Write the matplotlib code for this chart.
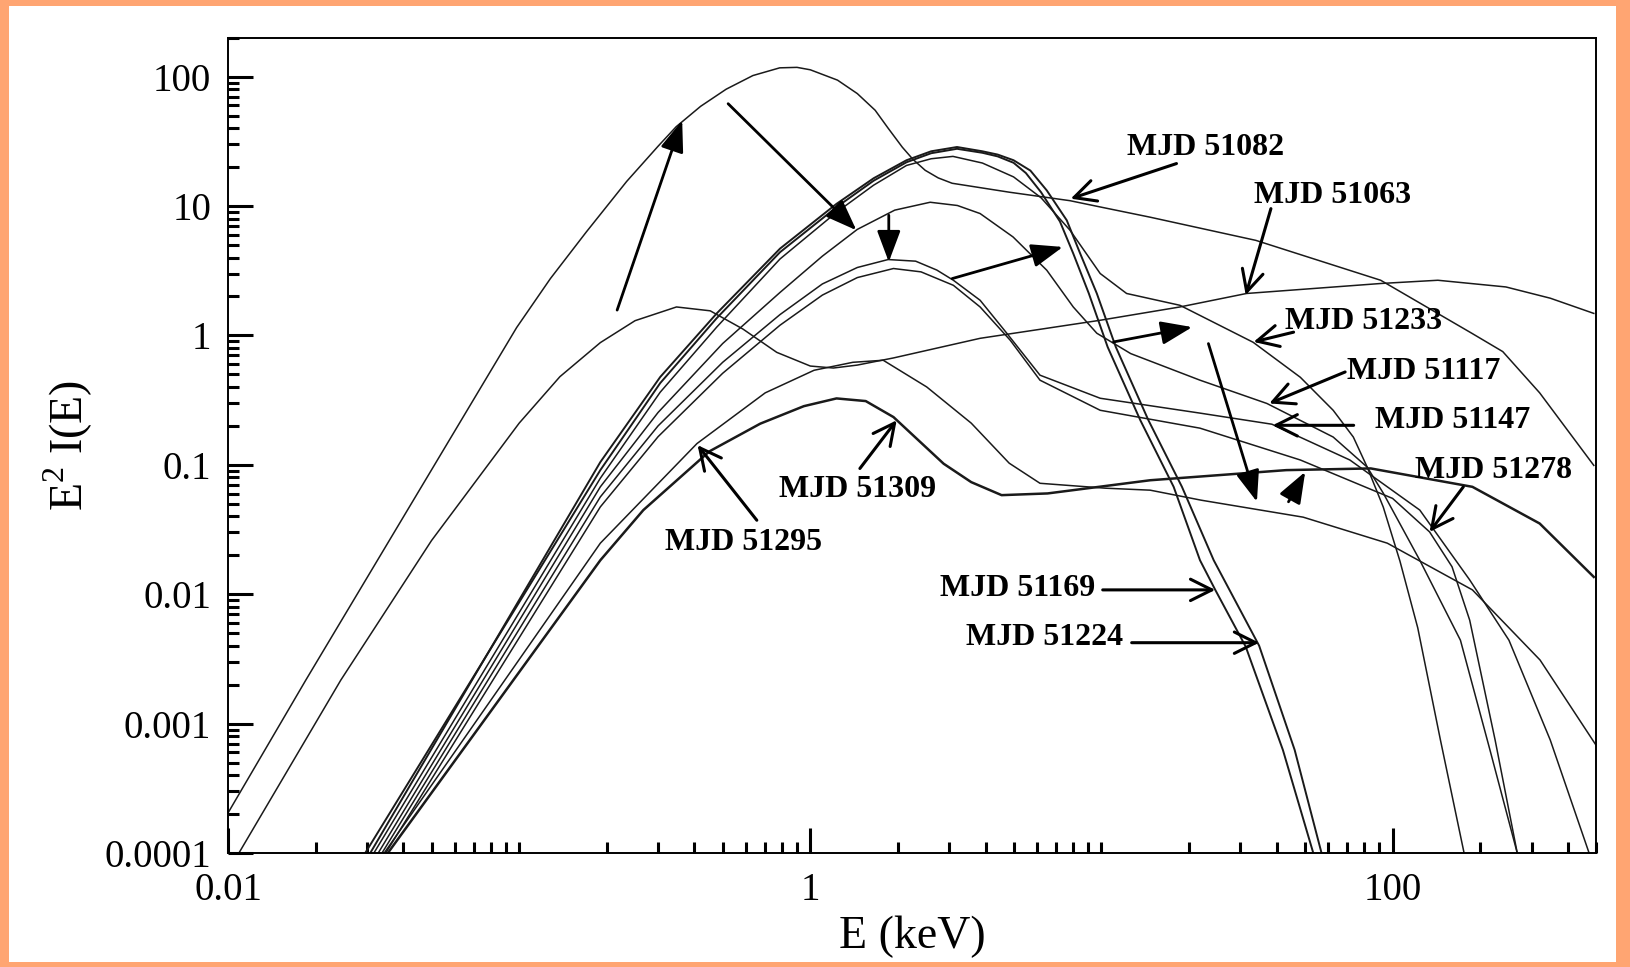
import matplotlib
matplotlib.use("Agg")
import matplotlib.pyplot as plt
from matplotlib.patches import Rectangle
from matplotlib.ticker import FixedLocator, FixedFormatter, NullFormatter

plt.rcParams['font.family'] = ['Liberation Serif', 'DejaVu Serif']
plt.rcParams['mathtext.fontset'] = 'custom'
plt.rcParams['mathtext.rm'] = 'Liberation Serif'

# model spectra, E (keV) vs E^2 I(E)
E_51082 = [0.01, 0.0185, 0.098, 0.128, 0.17, 0.234, 0.30, 0.346, 0.42, 0.514, 0.635, 0.785, 0.9, 1.0,
           1.24, 1.45, 1.67, 1.85, 2.07, 2.25, 2.48, 2.75, 3.07, 4.82, 7.8, 9.9, 14.7, 33.9, 91, 187,
           239, 320, 491]
F_51082 = [2.04e-4, 2.17e-3, 1.15, 2.75, 6.3, 15.5, 29, 41, 59, 80, 102, 117, 118, 113,
           94, 74, 55, 40, 28.5, 23, 18.9, 16.5, 15.0, 12.8, 11.0, 9.84, 8.2, 5.43, 2.67, 1.04,
           0.75, 0.36, 0.099]

E_51063 = [0.0109, 0.0244, 0.05, 0.1, 0.138, 0.19, 0.25, 0.347, 0.453, 0.587, 0.767, 1.0, 1.2, 1.45,
           1.93, 3.83, 9.9, 18.6, 31.5, 91, 143, 245, 348, 491]
F_51063 = [1e-4, 2.17e-3, 0.026, 0.21, 0.48, 0.88, 1.3, 1.66, 1.55, 1.12, 0.74, 0.58, 0.56, 0.59,
           0.67, 0.95, 1.31, 1.66, 2.11, 2.52, 2.67, 2.37, 1.94, 1.48]

E_51224 = [0.0308, 0.190, 0.305, 0.477, 0.787, 1.23, 1.65, 2.14, 2.6, 3.19, 3.9, 4.4, 4.99, 5.7, 6.49,
           7.60, 8.45, 9.64, 11.2, 14.5, 18.9, 24.3, 34.8, 46.1, 57.0]
F_51224 = [1e-4, 0.105, 0.477, 1.48, 4.69, 10.4, 16.4, 22.6, 26.5, 28.6, 26.5, 25, 22.6, 18.8, 13.2,
           7.76, 4.30, 2.11, 0.815, 0.221, 0.0676, 0.0183, 4.0e-3, 6.25e-4, 1e-4]

E_51169 = [0.0296, 0.190, 0.305, 0.477, 0.787, 1.23, 1.65, 2.14, 2.6, 3.19, 3.9, 4.4, 4.99, 5.5, 6.2,
           7.2, 8.0, 9.05, 10.5, 13.6, 17.7, 21.8, 24.6, 31.3, 42.0, 53.4]
F_51169 = [1e-4, 0.091, 0.428, 1.36, 4.4, 9.8, 15.7, 21.8, 25.6, 27.7, 25.8, 24.2, 21.6, 18.0, 12.8,
           7.6, 4.3, 2.11, 0.815, 0.221, 0.0676, 0.0183, 0.0108, 3.93e-3, 6.25e-4, 1e-4]

E_51233 = [0.0317, 0.190, 0.305, 0.477, 0.787, 1.23, 1.65, 2.14, 2.6, 3.09, 3.9, 4.99, 6.2, 7.8, 9.9,
           12.2, 18.6, 33.2, 48.2, 62.5, 73.3, 81.8, 92.9, 106, 122, 146, 176]
F_51233 = [1e-4, 0.0788, 0.364, 1.16, 3.9, 8.95, 14.5, 20.6, 23.2, 24.2, 21.5, 16.8, 11.6, 6.50, 3.01,
           2.11, 1.71, 0.885, 0.475, 0.264, 0.164, 0.0960, 0.0471, 0.018, 5.5e-3, 7.46e-4, 1e-4]

E_51117 = [0.0328, 0.190, 0.30, 0.50, 0.787, 1.1, 1.45, 1.95, 2.58, 3.2, 3.83, 4.97, 6.49, 8.0, 9.64,
           12.6, 21.8, 37.0, 62.5, 81.8, 92.9, 124, 171, 216, 268]
F_51117 = [1e-4, 0.0676, 0.254, 0.866, 2.15, 4.1, 6.6, 9.3, 10.7, 10.1, 8.75, 5.77, 3.19, 1.66, 1.04,
           0.724, 0.451, 0.298, 0.164, 0.0960, 0.0604, 0.0183, 4.41e-3, 6.25e-4, 1e-4]

E_51147 = [0.0338, 0.190, 0.30, 0.50, 0.787, 1.1, 1.45, 1.85, 2.3, 2.72, 3.10, 3.83, 4.73, 6.15, 9.9,
           21.8, 38.5, 71.3, 124, 184, 251, 348, 473]
F_51147 = [1e-4, 0.0565, 0.20, 0.62, 1.45, 2.5, 3.35, 3.86, 3.75, 3.2, 2.67, 1.87, 1.04, 0.493, 0.327,
           0.251, 0.206, 0.109, 0.0447, 0.0129, 4.41e-3, 7.46e-4, 1e-4]

E_51278 = [0.0348, 0.190, 0.30, 0.50, 0.787, 1.1, 1.45, 1.93, 2.4, 3.10, 3.83, 4.86, 6.15, 9.9, 21.8,
           48.2, 100, 134, 160, 184, 225, 268]
F_51278 = [1e-4, 0.0473, 0.165, 0.51, 1.2, 2.05, 2.8, 3.29, 3.1, 2.44, 1.66, 0.918, 0.451, 0.264, 0.192,
           0.109, 0.055, 0.0303, 0.0163, 6.3e-3, 7.46e-4, 1e-4]

E_51295 = [0.0344, 0.190, 0.408, 0.70, 1.03, 1.4, 1.78, 2.51, 3.57, 4.82, 6.15, 10.3, 14.7, 22.0, 49.3,
           95.9, 188, 321, 500]
F_51295 = [1e-4, 0.0248, 0.146, 0.36, 0.538, 0.62, 0.643, 0.400, 0.21, 0.103, 0.072, 0.066, 0.0637,
           0.0533, 0.0394, 0.0248, 0.0108, 3.1e-3, 6.8e-4]

E_51309 = [0.0354, 0.190, 0.267, 0.45, 0.673, 0.95, 1.23, 1.55, 1.93, 2.87, 3.57, 4.54, 6.53, 14.7,
           43.1, 84.1, 188, 320, 491]
F_51309 = [1e-4, 0.0183, 0.0447, 0.127, 0.208, 0.284, 0.326, 0.311, 0.234, 0.102, 0.0735, 0.0583,
           0.0601, 0.0760, 0.091, 0.0938, 0.0676, 0.0352, 0.0136]

spectra = [(E_51082, F_51082, 1.1), (E_51063, F_51063, 1.1), (E_51224, F_51224, 1.4),
           (E_51169, F_51169, 1.4), (E_51233, F_51233, 1.1), (E_51117, F_51117, 1.1),
           (E_51147, F_51147, 1.1), (E_51278, F_51278, 1.1), (E_51295, F_51295, 1.1),
           (E_51309, F_51309, 1.8)]

# labels: text position, arrow tail, arrow tip
labels = ['MJD 51082', 'MJD 51063', 'MJD 51233', 'MJD 51117', 'MJD 51147', 'MJD 51278',
          'MJD 51309', 'MJD 51295', 'MJD 51169', 'MJD 51224']
label_xy = [(22.7, 28.5), (62.1, 12.0), (79.4, 1.28), (128, 0.526), (161, 0.219), (222, 0.0903),
            (1.45, 0.0642), (0.591, 0.0249), (5.17, 0.0111), (6.39, 4.66e-3)]
label_tail = [(18.1, 21.3), (38.2, 9.55), (45.7, 1.06), (68.7, 0.522), (73.5, 0.202), (175, 0.0676),
              (1.48, 0.0937), (0.655, 0.0373), (10.1, 0.0108), (12.7, 4.22e-3)]
label_tip = [(7.84, 11.4), (31.3, 2.05), (33.3, 0.891), (37.7, 0.298), (38.7, 0.202), (134, 0.0303),
             (1.98, 0.221), (0.410, 0.142), (24.6, 0.0108), (34.8, 4.22e-3)]

# arrows showing the time order of the spectra
evo_tail = [(0.217, 1.57), (0.522, 61.8), (1.86, 8.49), (3.07, 2.75), (11.0, 0.891), (23.3, 0.865),
            (43.9, 0.0518)]
evo_tip = [(0.363, 45.9), (1.44, 6.5), (1.86, 3.70), (7.37, 4.83), (20.5, 1.16), (34.2, 0.0518),
           (50.1, 0.0883)]

fig = plt.figure(figsize=(16.3, 9.67), dpi=100)
fig.patch.set_facecolor('#FFA572')
fig.patches.append(Rectangle((9 / 1630, 5 / 967), 1607 / 1630, 956 / 967, transform=fig.transFigure,
                             facecolor='white', edgecolor='none', zorder=-10))

ax = fig.add_axes([0.1399, 0.1179, 0.8393, 0.8431])
ax.set_xscale('log')
ax.set_yscale('log')
ax.set_xlim(0.01, 500)
ax.set_ylim(1e-4, 200)

for E, F, w in spectra:
    ax.plot(E, F, color='#1a1a1a', lw=w, solid_joinstyle='round')

for txt, xy, tail, tip in zip(labels, label_xy, label_tail, label_tip):
    ax.text(xy[0], xy[1], txt, fontsize=23, fontweight='bold', ha='center', va='center')
    ax.annotate('', xy=tip, xytext=tail,
                arrowprops=dict(arrowstyle='->,head_length=0.7,head_width=0.35', lw=2.2,
                                color='black', shrinkA=0, shrinkB=0, mutation_scale=22))

for tail, tip in zip(evo_tail, evo_tip):
    ax.annotate('', xy=tip, xytext=tail,
                arrowprops=dict(arrowstyle='-|>,head_length=0.8,head_width=0.3', lw=2.0,
                                color='black', shrinkA=0, shrinkB=0, mutation_scale=24))

# ticks: labelled majors every two decades on x, each decade on y
xmaj = [0.01, 1, 100]
xmin = [m * 10.0 ** k for k in range(-2, 3) for m in range(2, 11) if m * 10.0 ** k <= 500]
ax.xaxis.set_major_locator(FixedLocator(xmaj))
ax.xaxis.set_major_formatter(FixedFormatter(['0.01', '1', '100']))
ax.xaxis.set_minor_locator(FixedLocator(xmin))
ax.xaxis.set_minor_formatter(NullFormatter())

ymaj = [1e-4, 1e-3, 1e-2, 0.1, 1, 10, 100]
ymin = [m * 10.0 ** k for k in range(-4, 3) for m in range(2, 10) if m * 10.0 ** k <= 200]
ax.yaxis.set_major_locator(FixedLocator(ymaj))
ax.yaxis.set_major_formatter(FixedFormatter(['0.0001', '0.001', '0.01', '0.1', '1', '10', '100']))
ax.yaxis.set_minor_locator(FixedLocator(ymin))
ax.yaxis.set_minor_formatter(NullFormatter())

ax.tick_params(which='both', direction='in', top=False, right=False, labelsize=28, width=2.2)
ax.tick_params(which='major', length=18)
ax.tick_params(which='minor', length=8)
ax.tick_params(axis='x', which='major', pad=14)
ax.tick_params(axis='y', which='major', pad=12)
for s in ax.spines.values():
    s.set_linewidth(1.4)

ax.set_xlabel('E (keV)', fontsize=33)
ax.set_ylabel(r'E$^\mathregular{2}$ I(E)', fontsize=33)
ax.xaxis.set_label_coords(0.5, -0.077)
ax.yaxis.set_label_coords(-0.097, 0.5)

fig.savefig('out.png', dpi=100, facecolor=fig.get_facecolor())
